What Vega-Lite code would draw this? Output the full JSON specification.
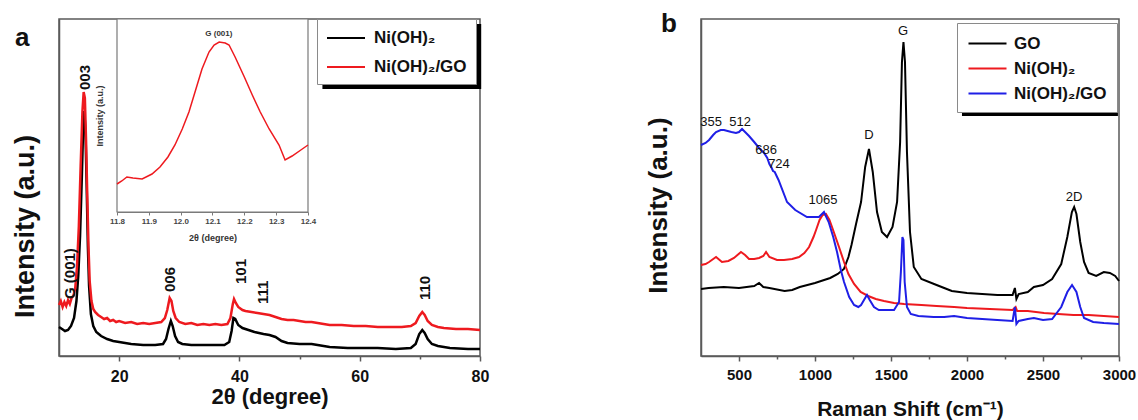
{
  "$schema": "https://vega.github.io/schema/vega-lite/v6.json",
  "background": "white",
  "padding": {"left": 10, "top": 10, "right": 5, "bottom": 0},
  "config": {
    "font": "Liberation Sans",
    "view": {"stroke": "#5a5a5a", "strokeWidth": 1.5},
    "axis": {"grid": false, "domainColor": "#5a5a5a", "domainWidth": 1.5, "tickColor": "#5a5a5a", "tickWidth": 1.5, "labelColor": "#111", "titleColor": "#111", "labelFontWeight": "bold", "titleFontWeight": "bold", "labelFlush": false, "labelOverlap": false},
    "legend": {"title": null, "labelFontSize": 17, "labelFontWeight": "bold", "labelColor": "#111", "symbolType": "M-2,0H2", "symbolSize": 361, "symbolStrokeWidth": 2, "fillColor": "white", "strokeColor": "#8a8a8a", "orient": "none"},
    "title": {"fontSize": 26, "fontWeight": "bold", "anchor": "start", "frame": "bounds", "color": "#111"}
  },
  "datasets": {
    "xrd": [
      {"series":"Ni(OH)₂","two_theta":10,"intensity":29},{"series":"Ni(OH)₂","two_theta":10.5,"intensity":27},{"series":"Ni(OH)₂","two_theta":11,"intensity":25},{"series":"Ni(OH)₂","two_theta":11.5,"intensity":26},{"series":"Ni(OH)₂","two_theta":12,"intensity":30},{"series":"Ni(OH)₂","two_theta":12.5,"intensity":38},{"series":"Ni(OH)₂","two_theta":12.9,"intensity":55},{"series":"Ni(OH)₂","two_theta":13.2,"intensity":80},{"series":"Ni(OH)₂","two_theta":13.5,"intensity":120},{"series":"Ni(OH)₂","two_theta":13.8,"intensity":180},{"series":"Ni(OH)₂","two_theta":14.0,"intensity":225},{"series":"Ni(OH)₂","two_theta":14.2,"intensity":245},{"series":"Ni(OH)₂","two_theta":14.4,"intensity":225},{"series":"Ni(OH)₂","two_theta":14.6,"intensity":170},{"series":"Ni(OH)₂","two_theta":14.8,"intensity":110},{"series":"Ni(OH)₂","two_theta":15.0,"intensity":70},{"series":"Ni(OH)₂","two_theta":15.3,"intensity":42},{"series":"Ni(OH)₂","two_theta":15.7,"intensity":30},{"series":"Ni(OH)₂","two_theta":16.2,"intensity":24},{"series":"Ni(OH)₂","two_theta":17,"intensity":20},{"series":"Ni(OH)₂","two_theta":18,"intensity":17},{"series":"Ni(OH)₂","two_theta":19,"intensity":15},{"series":"Ni(OH)₂","two_theta":20,"intensity":14},{"series":"Ni(OH)₂","two_theta":22,"intensity":12},{"series":"Ni(OH)₂","two_theta":24,"intensity":11},{"series":"Ni(OH)₂","two_theta":26,"intensity":11},{"series":"Ni(OH)₂","two_theta":27.3,"intensity":12},{"series":"Ni(OH)₂","two_theta":27.8,"intensity":17},{"series":"Ni(OH)₂","two_theta":28.2,"intensity":27},{"series":"Ni(OH)₂","two_theta":28.6,"intensity":35},{"series":"Ni(OH)₂","two_theta":28.9,"intensity":30},{"series":"Ni(OH)₂","two_theta":29.3,"intensity":20},{"series":"Ni(OH)₂","two_theta":29.8,"intensity":14},{"series":"Ni(OH)₂","two_theta":30.5,"intensity":12},{"series":"Ni(OH)₂","two_theta":32,"intensity":11},{"series":"Ni(OH)₂","two_theta":34,"intensity":11},{"series":"Ni(OH)₂","two_theta":36,"intensity":11},{"series":"Ni(OH)₂","two_theta":37.5,"intensity":11},{"series":"Ni(OH)₂","two_theta":38.3,"intensity":14},{"series":"Ni(OH)₂","two_theta":38.7,"intensity":25},{"series":"Ni(OH)₂","two_theta":39.0,"intensity":38},{"series":"Ni(OH)₂","two_theta":39.3,"intensity":37},{"series":"Ni(OH)₂","two_theta":39.8,"intensity":31},{"series":"Ni(OH)₂","two_theta":40.5,"intensity":28},{"series":"Ni(OH)₂","two_theta":41.5,"intensity":26},{"series":"Ni(OH)₂","two_theta":42.5,"intensity":24},{"series":"Ni(OH)₂","two_theta":44,"intensity":22},{"series":"Ni(OH)₂","two_theta":45,"intensity":21},{"series":"Ni(OH)₂","two_theta":46,"intensity":19},{"series":"Ni(OH)₂","two_theta":47,"intensity":15},{"series":"Ni(OH)₂","two_theta":48,"intensity":13},{"series":"Ni(OH)₂","two_theta":50,"intensity":12},{"series":"Ni(OH)₂","two_theta":52,"intensity":12},{"series":"Ni(OH)₂","two_theta":53,"intensity":11},{"series":"Ni(OH)₂","two_theta":55,"intensity":9},{"series":"Ni(OH)₂","two_theta":58,"intensity":8},{"series":"Ni(OH)₂","two_theta":60,"intensity":8},{"series":"Ni(OH)₂","two_theta":63,"intensity":8},{"series":"Ni(OH)₂","two_theta":66,"intensity":7},{"series":"Ni(OH)₂","two_theta":68.5,"intensity":8},{"series":"Ni(OH)₂","two_theta":69.3,"intensity":12},{"series":"Ni(OH)₂","two_theta":69.9,"intensity":22},{"series":"Ni(OH)₂","two_theta":70.4,"intensity":26},{"series":"Ni(OH)₂","two_theta":70.8,"intensity":23},{"series":"Ni(OH)₂","two_theta":71.3,"intensity":17},{"series":"Ni(OH)₂","two_theta":72,"intensity":12},{"series":"Ni(OH)₂","two_theta":73,"intensity":10},{"series":"Ni(OH)₂","two_theta":75,"intensity":8},{"series":"Ni(OH)₂","two_theta":78,"intensity":7},{"series":"Ni(OH)₂","two_theta":80,"intensity":7},
      {"series":"Ni(OH)₂/GO","two_theta":10,"intensity":51},{"series":"Ni(OH)₂/GO","two_theta":10.3,"intensity":55},{"series":"Ni(OH)₂/GO","two_theta":10.6,"intensity":49},{"series":"Ni(OH)₂/GO","two_theta":10.9,"intensity":54},{"series":"Ni(OH)₂/GO","two_theta":11.2,"intensity":50},{"series":"Ni(OH)₂/GO","two_theta":11.5,"intensity":56},{"series":"Ni(OH)₂/GO","two_theta":11.8,"intensity":52},{"series":"Ni(OH)₂/GO","two_theta":12.1,"intensity":58},{"series":"Ni(OH)₂/GO","two_theta":12.4,"intensity":60},{"series":"Ni(OH)₂/GO","two_theta":12.7,"intensity":68},{"series":"Ni(OH)₂/GO","two_theta":13.0,"intensity":90},{"series":"Ni(OH)₂/GO","two_theta":13.3,"intensity":130},{"series":"Ni(OH)₂/GO","two_theta":13.6,"intensity":190},{"series":"Ni(OH)₂/GO","two_theta":13.9,"intensity":245},{"series":"Ni(OH)₂/GO","two_theta":14.1,"intensity":264},{"series":"Ni(OH)₂/GO","two_theta":14.3,"intensity":258},{"series":"Ni(OH)₂/GO","two_theta":14.5,"intensity":215},{"series":"Ni(OH)₂/GO","two_theta":14.7,"intensity":160},{"series":"Ni(OH)₂/GO","two_theta":14.9,"intensity":110},{"series":"Ni(OH)₂/GO","two_theta":15.1,"intensity":75},{"series":"Ni(OH)₂/GO","two_theta":15.4,"intensity":55},{"series":"Ni(OH)₂/GO","two_theta":15.7,"intensity":47},{"series":"Ni(OH)₂/GO","two_theta":16.0,"intensity":44},{"series":"Ni(OH)₂/GO","two_theta":16.5,"intensity":41},{"series":"Ni(OH)₂/GO","two_theta":17,"intensity":39},{"series":"Ni(OH)₂/GO","two_theta":17.5,"intensity":37},{"series":"Ni(OH)₂/GO","two_theta":18,"intensity":38},{"series":"Ni(OH)₂/GO","two_theta":18.5,"intensity":35},{"series":"Ni(OH)₂/GO","two_theta":19,"intensity":36},{"series":"Ni(OH)₂/GO","two_theta":19.5,"intensity":34},{"series":"Ni(OH)₂/GO","two_theta":20,"intensity":35},{"series":"Ni(OH)₂/GO","two_theta":21,"intensity":33},{"series":"Ni(OH)₂/GO","two_theta":22,"intensity":34},{"series":"Ni(OH)₂/GO","two_theta":23,"intensity":32},{"series":"Ni(OH)₂/GO","two_theta":24,"intensity":33},{"series":"Ni(OH)₂/GO","two_theta":25,"intensity":32},{"series":"Ni(OH)₂/GO","two_theta":26,"intensity":33},{"series":"Ni(OH)₂/GO","two_theta":27,"intensity":34},{"series":"Ni(OH)₂/GO","two_theta":27.6,"intensity":38},{"series":"Ni(OH)₂/GO","two_theta":28.0,"intensity":46},{"series":"Ni(OH)₂/GO","two_theta":28.4,"intensity":58},{"series":"Ni(OH)₂/GO","two_theta":28.7,"intensity":55},{"series":"Ni(OH)₂/GO","two_theta":29.0,"intensity":45},{"series":"Ni(OH)₂/GO","two_theta":29.4,"intensity":38},{"series":"Ni(OH)₂/GO","two_theta":30,"intensity":34},{"series":"Ni(OH)₂/GO","two_theta":31,"intensity":32},{"series":"Ni(OH)₂/GO","two_theta":32,"intensity":33},{"series":"Ni(OH)₂/GO","two_theta":33,"intensity":31},{"series":"Ni(OH)₂/GO","two_theta":34,"intensity":32},{"series":"Ni(OH)₂/GO","two_theta":35,"intensity":31},{"series":"Ni(OH)₂/GO","two_theta":36,"intensity":32},{"series":"Ni(OH)₂/GO","two_theta":37,"intensity":31},{"series":"Ni(OH)₂/GO","two_theta":38,"intensity":32},{"series":"Ni(OH)₂/GO","two_theta":38.5,"intensity":38},{"series":"Ni(OH)₂/GO","two_theta":38.9,"intensity":52},{"series":"Ni(OH)₂/GO","two_theta":39.1,"intensity":57},{"series":"Ni(OH)₂/GO","two_theta":39.4,"intensity":53},{"series":"Ni(OH)₂/GO","two_theta":39.8,"intensity":49},{"series":"Ni(OH)₂/GO","two_theta":40.5,"intensity":46},{"series":"Ni(OH)₂/GO","two_theta":41,"intensity":45},{"series":"Ni(OH)₂/GO","two_theta":42,"intensity":44},{"series":"Ni(OH)₂/GO","two_theta":43,"intensity":43},{"series":"Ni(OH)₂/GO","two_theta":44,"intensity":42},{"series":"Ni(OH)₂/GO","two_theta":45,"intensity":41},{"series":"Ni(OH)₂/GO","two_theta":46,"intensity":39},{"series":"Ni(OH)₂/GO","two_theta":47,"intensity":37},{"series":"Ni(OH)₂/GO","two_theta":48,"intensity":36},{"series":"Ni(OH)₂/GO","two_theta":49,"intensity":36},{"series":"Ni(OH)₂/GO","two_theta":50,"intensity":35},{"series":"Ni(OH)₂/GO","two_theta":51,"intensity":34},{"series":"Ni(OH)₂/GO","two_theta":52,"intensity":34},{"series":"Ni(OH)₂/GO","two_theta":53,"intensity":33},{"series":"Ni(OH)₂/GO","two_theta":55,"intensity":31},{"series":"Ni(OH)₂/GO","two_theta":57,"intensity":31},{"series":"Ni(OH)₂/GO","two_theta":59,"intensity":30},{"series":"Ni(OH)₂/GO","two_theta":61,"intensity":30},{"series":"Ni(OH)₂/GO","two_theta":63,"intensity":29},{"series":"Ni(OH)₂/GO","two_theta":65,"intensity":29},{"series":"Ni(OH)₂/GO","two_theta":67,"intensity":29},{"series":"Ni(OH)₂/GO","two_theta":68.5,"intensity":30},{"series":"Ni(OH)₂/GO","two_theta":69.3,"intensity":33},{"series":"Ni(OH)₂/GO","two_theta":69.9,"intensity":40},{"series":"Ni(OH)₂/GO","two_theta":70.4,"intensity":44},{"series":"Ni(OH)₂/GO","two_theta":70.8,"intensity":41},{"series":"Ni(OH)₂/GO","two_theta":71.3,"intensity":35},{"series":"Ni(OH)₂/GO","two_theta":72,"intensity":31},{"series":"Ni(OH)₂/GO","two_theta":73,"intensity":29},{"series":"Ni(OH)₂/GO","two_theta":74,"intensity":28},{"series":"Ni(OH)₂/GO","two_theta":76,"intensity":27},{"series":"Ni(OH)₂/GO","two_theta":78,"intensity":27},{"series":"Ni(OH)₂/GO","two_theta":80,"intensity":26}
    ],
    "xrd_inset": [
      {"two_theta":11.8,"intensity":28},{"two_theta":11.815,"intensity":31},{"two_theta":11.831,"intensity":35},{"two_theta":11.85,"intensity":34},{"two_theta":11.879,"intensity":33},{"two_theta":11.91,"intensity":38},{"two_theta":11.935,"intensity":45},{"two_theta":11.96,"intensity":55},{"two_theta":11.982,"intensity":67},{"two_theta":12.005,"intensity":83},{"two_theta":12.026,"intensity":100},{"two_theta":12.047,"intensity":122},{"two_theta":12.067,"intensity":143},{"two_theta":12.089,"intensity":160},{"two_theta":12.105,"intensity":167},{"two_theta":12.121,"intensity":170},{"two_theta":12.14,"intensity":169},{"two_theta":12.152,"intensity":167},{"two_theta":12.171,"intensity":155},{"two_theta":12.2,"intensity":135},{"two_theta":12.225,"intensity":117},{"two_theta":12.25,"intensity":100},{"two_theta":12.278,"intensity":83},{"two_theta":12.309,"intensity":67},{"two_theta":12.328,"intensity":52},{"two_theta":12.35,"intensity":56},{"two_theta":12.382,"intensity":63},{"two_theta":12.4,"intensity":67}
    ],
    "xrd_labels": [
      {"label":"G (001)","two_theta":11.8,"intensity":57},
      {"label":"003","two_theta":14.3,"intensity":266},
      {"label":"006","two_theta":28.5,"intensity":64},
      {"label":"101","two_theta":40.3,"intensity":72},
      {"label":"111","two_theta":44,"intensity":52},
      {"label":"110","two_theta":70.8,"intensity":56}
    ],
    "raman": [
      {"series":"GO","shift":250,"intensity":67},{"series":"GO","shift":300,"intensity":68},{"series":"GO","shift":400,"intensity":69},{"series":"GO","shift":500,"intensity":68},{"series":"GO","shift":600,"intensity":70},{"series":"GO","shift":632,"intensity":73},{"series":"GO","shift":660,"intensity":69},{"series":"GO","shift":700,"intensity":68},{"series":"GO","shift":800,"intensity":65},{"series":"GO","shift":850,"intensity":66},{"series":"GO","shift":900,"intensity":69},{"series":"GO","shift":1000,"intensity":73},{"series":"GO","shift":1100,"intensity":78},{"series":"GO","shift":1150,"intensity":82},{"series":"GO","shift":1190,"intensity":87},{"series":"GO","shift":1220,"intensity":99},{"series":"GO","shift":1240,"intensity":111},{"series":"GO","shift":1270,"intensity":132},{"series":"GO","shift":1303,"intensity":154},{"series":"GO","shift":1330,"intensity":189},{"series":"GO","shift":1355,"intensity":207},{"series":"GO","shift":1380,"intensity":184},{"series":"GO","shift":1408,"intensity":144},{"series":"GO","shift":1440,"intensity":124},{"series":"GO","shift":1474,"intensity":119},{"series":"GO","shift":1510,"intensity":129},{"series":"GO","shift":1540,"intensity":154},{"series":"GO","shift":1560,"intensity":214},{"series":"GO","shift":1572,"intensity":294},{"series":"GO","shift":1582,"intensity":314},{"series":"GO","shift":1592,"intensity":294},{"series":"GO","shift":1605,"intensity":204},{"series":"GO","shift":1625,"intensity":124},{"series":"GO","shift":1650,"intensity":89},{"series":"GO","shift":1700,"intensity":77},{"series":"GO","shift":1800,"intensity":71},{"series":"GO","shift":1850,"intensity":68},{"series":"GO","shift":1900,"intensity":65},{"series":"GO","shift":2000,"intensity":63},{"series":"GO","shift":2100,"intensity":62},{"series":"GO","shift":2200,"intensity":61},{"series":"GO","shift":2300,"intensity":61},{"series":"GO","shift":2315,"intensity":68},{"series":"GO","shift":2325,"intensity":57},{"series":"GO","shift":2340,"intensity":62},{"series":"GO","shift":2400,"intensity":64},{"series":"GO","shift":2440,"intensity":69},{"series":"GO","shift":2500,"intensity":71},{"series":"GO","shift":2560,"intensity":77},{"series":"GO","shift":2620,"intensity":92},{"series":"GO","shift":2660,"intensity":119},{"series":"GO","shift":2690,"intensity":144},{"series":"GO","shift":2705,"intensity":149},{"series":"GO","shift":2720,"intensity":142},{"series":"GO","shift":2745,"intensity":114},{"series":"GO","shift":2770,"intensity":94},{"series":"GO","shift":2800,"intensity":83},{"series":"GO","shift":2850,"intensity":80},{"series":"GO","shift":2900,"intensity":84},{"series":"GO","shift":2940,"intensity":83},{"series":"GO","shift":2975,"intensity":80},{"series":"GO","shift":3000,"intensity":75},
      {"series":"Ni(OH)₂","shift":250,"intensity":91},{"series":"Ni(OH)₂","shift":280,"intensity":92},{"series":"Ni(OH)₂","shift":303,"intensity":94},{"series":"Ni(OH)₂","shift":349,"intensity":99},{"series":"Ni(OH)₂","shift":388,"intensity":94},{"series":"Ni(OH)₂","shift":430,"intensity":95},{"series":"Ni(OH)₂","shift":467,"intensity":98},{"series":"Ni(OH)₂","shift":513,"intensity":104},{"series":"Ni(OH)₂","shift":540,"intensity":101},{"series":"Ni(OH)₂","shift":566,"intensity":97},{"series":"Ni(OH)₂","shift":600,"intensity":97},{"series":"Ni(OH)₂","shift":632,"intensity":98},{"series":"Ni(OH)₂","shift":660,"intensity":100},{"series":"Ni(OH)₂","shift":678,"intensity":104},{"series":"Ni(OH)₂","shift":700,"intensity":99},{"series":"Ni(OH)₂","shift":750,"intensity":96},{"series":"Ni(OH)₂","shift":796,"intensity":96},{"series":"Ni(OH)₂","shift":850,"intensity":97},{"series":"Ni(OH)₂","shift":895,"intensity":99},{"series":"Ni(OH)₂","shift":930,"intensity":103},{"series":"Ni(OH)₂","shift":961,"intensity":109},{"series":"Ni(OH)₂","shift":990,"intensity":119},{"series":"Ni(OH)₂","shift":1007,"intensity":126},{"series":"Ni(OH)₂","shift":1030,"intensity":136},{"series":"Ni(OH)₂","shift":1050,"intensity":141},{"series":"Ni(OH)₂","shift":1072,"intensity":142},{"series":"Ni(OH)₂","shift":1095,"intensity":136},{"series":"Ni(OH)₂","shift":1112,"intensity":129},{"series":"Ni(OH)₂","shift":1135,"intensity":119},{"series":"Ni(OH)₂","shift":1158,"intensity":109},{"series":"Ni(OH)₂","shift":1191,"intensity":94},{"series":"Ni(OH)₂","shift":1220,"intensity":82},{"series":"Ni(OH)₂","shift":1257,"intensity":72},{"series":"Ni(OH)₂","shift":1300,"intensity":64},{"series":"Ni(OH)₂","shift":1350,"intensity":60},{"series":"Ni(OH)₂","shift":1400,"intensity":57},{"series":"Ni(OH)₂","shift":1454,"intensity":55},{"series":"Ni(OH)₂","shift":1520,"intensity":53},{"series":"Ni(OH)₂","shift":1586,"intensity":52},{"series":"Ni(OH)₂","shift":1700,"intensity":51},{"series":"Ni(OH)₂","shift":1800,"intensity":50},{"series":"Ni(OH)₂","shift":1915,"intensity":49},{"series":"Ni(OH)₂","shift":2000,"intensity":48},{"series":"Ni(OH)₂","shift":2150,"intensity":47},{"series":"Ni(OH)₂","shift":2300,"intensity":46},{"series":"Ni(OH)₂","shift":2320,"intensity":49},{"series":"Ni(OH)₂","shift":2330,"intensity":45},{"series":"Ni(OH)₂","shift":2400,"intensity":45},{"series":"Ni(OH)₂","shift":2507,"intensity":43},{"series":"Ni(OH)₂","shift":2600,"intensity":42},{"series":"Ni(OH)₂","shift":2700,"intensity":41},{"series":"Ni(OH)₂","shift":2800,"intensity":41},{"series":"Ni(OH)₂","shift":2900,"intensity":40},{"series":"Ni(OH)₂","shift":3000,"intensity":39},
      {"series":"Ni(OH)₂/GO","shift":250,"intensity":211},{"series":"Ni(OH)₂/GO","shift":280,"intensity":213},{"series":"Ni(OH)₂/GO","shift":303,"intensity":216},{"series":"Ni(OH)₂/GO","shift":330,"intensity":221},{"series":"Ni(OH)₂/GO","shift":349,"intensity":224},{"series":"Ni(OH)₂/GO","shift":380,"intensity":226},{"series":"Ni(OH)₂/GO","shift":401,"intensity":226},{"series":"Ni(OH)₂/GO","shift":450,"intensity":224},{"series":"Ni(OH)₂/GO","shift":480,"intensity":223},{"series":"Ni(OH)₂/GO","shift":500,"intensity":224},{"series":"Ni(OH)₂/GO","shift":520,"intensity":227},{"series":"Ni(OH)₂/GO","shift":540,"intensity":224},{"series":"Ni(OH)₂/GO","shift":566,"intensity":220},{"series":"Ni(OH)₂/GO","shift":600,"intensity":214},{"series":"Ni(OH)₂/GO","shift":632,"intensity":208},{"series":"Ni(OH)₂/GO","shift":665,"intensity":203},{"series":"Ni(OH)₂/GO","shift":686,"intensity":198},{"series":"Ni(OH)₂/GO","shift":700,"intensity":192},{"series":"Ni(OH)₂/GO","shift":715,"intensity":188},{"series":"Ni(OH)₂/GO","shift":724,"intensity":185},{"series":"Ni(OH)₂/GO","shift":735,"intensity":184},{"series":"Ni(OH)₂/GO","shift":760,"intensity":176},{"series":"Ni(OH)₂/GO","shift":816,"intensity":154},{"series":"Ni(OH)₂/GO","shift":870,"intensity":146},{"series":"Ni(OH)₂/GO","shift":947,"intensity":139},{"series":"Ni(OH)₂/GO","shift":990,"intensity":139},{"series":"Ni(OH)₂/GO","shift":1026,"intensity":139},{"series":"Ni(OH)₂/GO","shift":1059,"intensity":144},{"series":"Ni(OH)₂/GO","shift":1090,"intensity":134},{"series":"Ni(OH)₂/GO","shift":1120,"intensity":119},{"series":"Ni(OH)₂/GO","shift":1145,"intensity":104},{"series":"Ni(OH)₂/GO","shift":1170,"intensity":86},{"series":"Ni(OH)₂/GO","shift":1191,"intensity":74},{"series":"Ni(OH)₂/GO","shift":1225,"intensity":59},{"series":"Ni(OH)₂/GO","shift":1257,"intensity":51},{"series":"Ni(OH)₂/GO","shift":1285,"intensity":49},{"series":"Ni(OH)₂/GO","shift":1303,"intensity":51},{"series":"Ni(OH)₂/GO","shift":1330,"intensity":58},{"series":"Ni(OH)₂/GO","shift":1342,"intensity":61},{"series":"Ni(OH)₂/GO","shift":1360,"intensity":56},{"series":"Ni(OH)₂/GO","shift":1388,"intensity":49},{"series":"Ni(OH)₂/GO","shift":1420,"intensity":46},{"series":"Ni(OH)₂/GO","shift":1454,"intensity":46},{"series":"Ni(OH)₂/GO","shift":1520,"intensity":46},{"series":"Ni(OH)₂/GO","shift":1553,"intensity":54},{"series":"Ni(OH)₂/GO","shift":1565,"intensity":84},{"series":"Ni(OH)₂/GO","shift":1575,"intensity":119},{"series":"Ni(OH)₂/GO","shift":1582,"intensity":116},{"series":"Ni(OH)₂/GO","shift":1590,"intensity":74},{"series":"Ni(OH)₂/GO","shift":1605,"intensity":49},{"series":"Ni(OH)₂/GO","shift":1630,"intensity":42},{"series":"Ni(OH)₂/GO","shift":1680,"intensity":40},{"series":"Ni(OH)₂/GO","shift":1780,"intensity":39},{"series":"Ni(OH)₂/GO","shift":1850,"intensity":39},{"series":"Ni(OH)₂/GO","shift":1915,"intensity":40},{"series":"Ni(OH)₂/GO","shift":2000,"intensity":38},{"series":"Ni(OH)₂/GO","shift":2100,"intensity":37},{"series":"Ni(OH)₂/GO","shift":2200,"intensity":36},{"series":"Ni(OH)₂/GO","shift":2300,"intensity":35},{"series":"Ni(OH)₂/GO","shift":2315,"intensity":49},{"series":"Ni(OH)₂/GO","shift":2325,"intensity":32},{"series":"Ni(OH)₂/GO","shift":2340,"intensity":35},{"series":"Ni(OH)₂/GO","shift":2400,"intensity":37},{"series":"Ni(OH)₂/GO","shift":2440,"intensity":38},{"series":"Ni(OH)₂/GO","shift":2500,"intensity":36},{"series":"Ni(OH)₂/GO","shift":2560,"intensity":37},{"series":"Ni(OH)₂/GO","shift":2620,"intensity":49},{"series":"Ni(OH)₂/GO","shift":2660,"intensity":64},{"series":"Ni(OH)₂/GO","shift":2691,"intensity":71},{"series":"Ni(OH)₂/GO","shift":2720,"intensity":64},{"series":"Ni(OH)₂/GO","shift":2745,"intensity":49},{"series":"Ni(OH)₂/GO","shift":2770,"intensity":38},{"series":"Ni(OH)₂/GO","shift":2830,"intensity":34},{"series":"Ni(OH)₂/GO","shift":2900,"intensity":33},{"series":"Ni(OH)₂/GO","shift":3000,"intensity":32}
    ],
    "raman_labels": [
      {"label":"355","shift":316,"intensity":234},
      {"label":"512","shift":507,"intensity":234},
      {"label":"686","shift":678,"intensity":206},
      {"label":"724","shift":763,"intensity":192},
      {"label":"1065","shift":1053,"intensity":156},
      {"label":"D","shift":1355,"intensity":221},
      {"label":"G","shift":1579,"intensity":325},
      {"label":"2D","shift":2704,"intensity":159}
    ]
  },
  "hconcat": [
    {
      "width": 421,
      "height": 337,
      "title": {"text": "a", "dx": 4, "dy": 33, "offset": 0},
      "layer": [
        {
          "layer": [
            {
              "data": {"values": [{"box": "legend shadow"}]},
              "mark": {"type": "rect", "fill": "#000000"},
              "encoding": {
                "x": {"datum": 53.8, "type": "quantitative"},
                "x2": {"datum": 80.2},
                "y": {"datum": 332, "type": "quantitative"},
                "y2": {"datum": 267}
              }
            },
            {
              "data": {"name": "xrd"},
              "mark": {"type": "line", "strokeWidth": 2.5},
              "encoding": {
                "x": {"field": "two_theta", "type": "quantitative", "scale": {"domain": [10, 80], "nice": false, "zero": false},
                  "axis": {"values": [20, 30, 40, 50, 60, 70, 80], "labelExpr": "datum.value % 20 === 0 ? datum.label : ''", "tickSize": {"condition": {"test": "datum.value % 20 === 0", "value": 5}, "value": 3}, "labelFontSize": 16, "labelPadding": 7, "title": "2θ (degree)", "titleFontSize": 22, "titlePadding": 2}},
                "y": {"field": "intensity", "type": "quantitative", "scale": {"domain": [0, 337], "nice": false},
                  "axis": {"labels": false, "ticks": false, "title": "Intensity (a.u.)", "titleFontSize": 27, "titlePadding": 20, "titleY": 207}},
                "color": {"field": "series", "type": "nominal", "sort": ["Ni(OH)₂", "Ni(OH)₂/GO"], "scale": {"domain": ["Ni(OH)₂", "Ni(OH)₂/GO"], "range": ["#000000", "#ee1a1f"]},
                  "legend": {"legendX": 258, "legendY": 0, "padding": 8.5, "rowPadding": 10, "symbolOffset": 10, "labelOffset": 17.5}}
              }
            },
            {
              "data": {"name": "xrd_labels"},
              "mark": {"type": "text", "angle": 270, "align": "left", "baseline": "middle", "fontSize": 15, "fontWeight": "bold", "color": "#111"},
              "encoding": {
                "x": {"field": "two_theta", "type": "quantitative"},
                "y": {"field": "intensity", "type": "quantitative"},
                "text": {"field": "label"}
              }
            }
          ]
        },
        {
          "layer": [
            {
              "data": {"values": [{"box": "inset frame"}]},
              "mark": {"type": "rect", "fill": "white", "stroke": "#7a7a7a", "strokeWidth": 1.2},
              "encoding": {
                "x": {"datum": 11.8, "type": "quantitative", "scale": {"domain": [11.8, 12.4], "range": [58, 249], "nice": false, "zero": false},
                  "axis": {"orient": "bottom", "offset": -144, "values": [11.8, 11.9, 12.0, 12.1, 12.2, 12.3, 12.4], "format": ".1f", "labelFontSize": 8, "labelColor": "#444", "tickSize": 3, "tickWidth": 1, "domainWidth": 1, "domainColor": "#7a7a7a", "tickColor": "#7a7a7a", "labelPadding": 2, "title": "2θ (degree)", "titleFontSize": 9, "titleColor": "#333", "titlePadding": 8}},
                "x2": {"datum": 12.4},
                "y": {"datum": 0, "type": "quantitative", "scale": {"domain": [0, 193], "range": [193, 0], "nice": false, "zero": false},
                  "axis": {"orient": "left", "offset": -58, "labels": false, "ticks": false, "domainWidth": 1, "domainColor": "#7a7a7a", "title": "Intensity (a.u.)", "titleFontSize": 9, "titleColor": "#333", "titlePadding": 13}},
                "y2": {"datum": 193}
              }
            },
            {
              "data": {"name": "xrd_inset"},
              "mark": {"type": "line", "color": "#ee1a1f", "strokeWidth": 1.5},
              "encoding": {
                "x": {"field": "two_theta", "type": "quantitative"},
                "y": {"field": "intensity", "type": "quantitative"}
              }
            },
            {
              "data": {"values": [{"label": "G (001)", "two_theta": 12.12, "intensity": 178}]},
              "mark": {"type": "text", "fontSize": 8, "fontWeight": "bold", "color": "#333"},
              "encoding": {
                "x": {"field": "two_theta", "type": "quantitative"},
                "y": {"field": "intensity", "type": "quantitative"},
                "text": {"field": "label"}
              }
            }
          ]
        }
      ],
      "resolve": {"scale": {"x": "independent", "y": "independent"}, "axis": {"x": "independent", "y": "independent"}}
    },
    {
      "width": 418,
      "height": 337,
      "title": {"text": "b", "dx": 16, "dy": 18, "offset": 0},
      "layer": [
        {
          "data": {"values": [{"box": "legend shadow"}]},
          "mark": {"type": "rect", "fill": "#000000"},
          "encoding": {
            "x": {"datum": 1967, "type": "quantitative"},
            "x2": {"datum": 2993},
            "y": {"datum": 328, "type": "quantitative"},
            "y2": {"datum": 240}
          }
        },
        {
          "data": {"name": "raman"},
          "mark": {"type": "line", "strokeWidth": 2},
          "encoding": {
            "x": {"field": "shift", "type": "quantitative", "scale": {"domain": [250, 3000], "nice": false, "zero": false},
              "axis": {"values": [500, 750, 1000, 1250, 1500, 1750, 2000, 2250, 2500, 2750, 3000], "labelExpr": "datum.value % 500 === 0 ? datum.label : ''", "format": "d", "tickSize": {"condition": {"test": "datum.value % 500 === 0", "value": 5}, "value": 3}, "labelFontSize": 15, "labelPadding": 6, "title": "Raman Shift (cm⁻¹)", "titleFontSize": 21, "titlePadding": 16}},
            "y": {"field": "intensity", "type": "quantitative", "scale": {"domain": [0, 337], "nice": false},
              "axis": {"labels": false, "ticks": false, "title": "Intensity (a.u.)", "titleFontSize": 26, "titlePadding": 30, "titleY": 186}},
            "color": {"field": "series", "type": "nominal", "sort": ["GO", "Ni(OH)₂", "Ni(OH)₂/GO"], "scale": {"domain": ["GO", "Ni(OH)₂", "Ni(OH)₂/GO"], "range": ["#000000", "#ee1a1f", "#1f1fe6"]},
              "legend": {"legendX": 256, "legendY": 4, "padding": 10, "rowPadding": 6, "symbolOffset": 10, "labelOffset": 16}}
          }
        },
        {
          "data": {"name": "raman_labels"},
          "mark": {"type": "text", "fontSize": 13, "color": "#111"},
          "encoding": {
            "x": {"field": "shift", "type": "quantitative"},
            "y": {"field": "intensity", "type": "quantitative"},
            "text": {"field": "label"}
          }
        }
      ]
    }
  ],
  "spacing": 154,
  "resolve": {"scale": {"color": "independent"}, "legend": {"color": "independent"}}
}
